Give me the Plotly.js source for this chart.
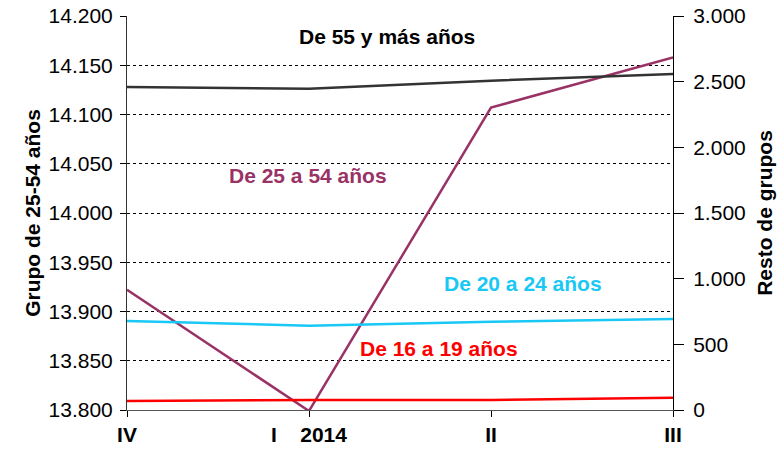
<!DOCTYPE html>
<html><head><meta charset="utf-8">
<script src="https://cdn.plot.ly/plotly-3.0.1.min.js"></script>
<style>html,body{margin:0;padding:0;background:#fff}#chart{width:778px;height:453px}</style>
</head><body><div id="chart"></div>
<script>
const categories = ["IV", "I", "II", "III"];
const tickLabels = ["IV", "I\u00A0\u00A0\u00A0\u00A02014", "II", "III"];
const grupo25a54 = [13922, 13799, 14107, 14158];
const de55ymas = [2459, 2446, 2507, 2558];
const de20a24 = [678, 642, 672, 693];
const de16a19 = [69, 76, 76, 94];
const seriesNames = ["De 55 y más años", "De 25 a 54 años", "De 20 a 24 años", "De 16 a 19 años"];

const F = "Liberation Sans, Arial, sans-serif";
const traces = [
  {x: categories, y: grupo25a54, name: seriesNames[1], yaxis: "y", mode: "lines", line: {color: "#993366", width: 2.5}},
  {x: categories, y: de55ymas, name: seriesNames[0], yaxis: "y2", mode: "lines", line: {color: "#333333", width: 2.5}},
  {x: categories, y: de20a24, name: seriesNames[2], yaxis: "y2", mode: "lines", line: {color: "#19C8F5", width: 2.5}},
  {x: categories, y: de16a19, name: seriesNames[3], yaxis: "y2", mode: "lines", line: {color: "#FF0000", width: 2.5}}
];

function lab(text, x, y, color) {
  return {text: text, xref: "paper", yref: "paper", x: x, y: y, showarrow: false,
    xanchor: "center", yanchor: "middle", font: {family: F, size: 21, color: color, weight: "bold"}};
}

const layout = {
  width: 778, height: 453,
  margin: {l: 127, r: 105, t: 16, b: 43},
  paper_bgcolor: "#fff", plot_bgcolor: "#fff",
  separators: ",.",
  showlegend: false,
  font: {family: F, size: 21, color: "#000"},
  xaxis: {
    type: "category", range: [0, 3],
    tickmode: "array", tickvals: categories, ticktext: tickLabels,
    ticks: "outside", ticklen: 6, tickcolor: "#000",
    showline: true, linecolor: "#555", linewidth: 1,
    showgrid: false, zeroline: false,
    tickfont: {family: F, size: 21, color: "#000", weight: "bold"}
  },
  yaxis: {
    range: [13800, 14200], dtick: 50, tickformat: ",d",
    ticks: "outside", ticklen: 6, tickcolor: "#000",
    ticklabelstandoff: 3,
    showline: true, linecolor: "#333", linewidth: 1,
    showgrid: true, gridcolor: "#000", griddash: "dot", gridwidth: 1,
    zeroline: false,
    tickfont: {family: F, size: 21, color: "#000"},
    title: {text: "Grupo de 25-54 años", font: {family: F, size: 21, color: "#000", weight: "bold"}, standoff: 2}
  },
  yaxis2: {
    overlaying: "y", side: "right",
    range: [0, 3000], dtick: 500, tickformat: ",d",
    ticks: "outside", ticklen: 10, tickcolor: "#000",
    ticklabelstandoff: 5,
    showline: true, linecolor: "#000", linewidth: 1,
    showgrid: false, zeroline: false,
    tickfont: {family: F, size: 21, color: "#000"},
    title: {text: "Resto de grupos", font: {family: F, size: 21, color: "#000", weight: "bold"}, standoff: 12}
  },
  annotations: [
    lab(seriesNames[0], 0.476, 0.947, "#000000"),
    lab(seriesNames[1], 0.3315, 0.594, "#993366"),
    lab(seriesNames[2], 0.725, 0.322, "#19C8F5"),
    lab(seriesNames[3], 0.571, 0.155, "#FF0000")
  ]
};

Plotly.newPlot("chart", traces, layout, {staticPlot: true, displayModeBar: false});
</script></body></html>
